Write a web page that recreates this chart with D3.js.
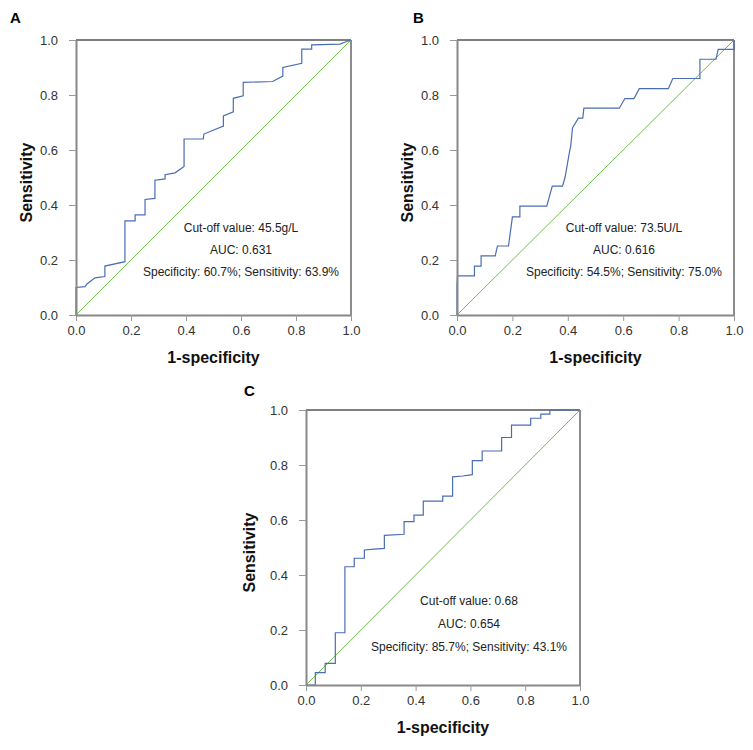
<!DOCTYPE html>
<html>
<head>
<meta charset="utf-8">
<script src="https://cdn.jsdelivr.net/npm/d3@7/dist/d3.min.js"></script>
<style>
  html, body { margin: 0; padding: 0; background: #fff; }
  svg { display: block; font-family: Arial, "Liberation Sans", sans-serif; }
</style>
</head>
<body>
<svg id="chart" width="753" height="750"></svg>
<script>
// ---------- data ----------
const tickValues = [0.0, 0.2, 0.4, 0.6, 0.8, 1.0];
const xTitle = "1-specificity";
const yTitle = "Sensitivity";
const panelLabels = ["A", "B", "C"];

// ROC curve points [1-specificity, sensitivity]
const rocA = [[0,0],[0,0.10],[0.033,0.103],[0.04,0.113],[0.069,0.135],[0.105,0.14],[0.105,0.178],[0.178,0.194],[0.178,0.342],[0.215,0.342],[0.215,0.364],[0.251,0.364],[0.251,0.42],[0.287,0.424],[0.287,0.49],[0.324,0.495],[0.324,0.51],[0.36,0.517],[0.393,0.54],[0.393,0.64],[0.463,0.64],[0.465,0.658],[0.536,0.687],[0.536,0.724],[0.572,0.739],[0.572,0.788],[0.608,0.797],[0.608,0.846],[0.715,0.849],[0.752,0.869],[0.752,0.9],[0.821,0.915],[0.821,0.967],[0.857,0.967],[0.857,0.982],[0.96,0.985],[0.972,0.99],[1,1]];
const rocB = [[0,0],[0,0.109],[0.002,0.142],[0.063,0.142],[0.063,0.178],[0.087,0.178],[0.087,0.215],[0.138,0.215],[0.146,0.251],[0.186,0.251],[0.2,0.357],[0.227,0.357],[0.227,0.396],[0.324,0.396],[0.344,0.469],[0.381,0.469],[0.39,0.5],[0.408,0.604],[0.41,0.61],[0.417,0.68],[0.438,0.716],[0.454,0.716],[0.458,0.752],[0.586,0.752],[0.606,0.787],[0.639,0.787],[0.658,0.823],[0.763,0.823],[0.779,0.86],[0.877,0.86],[0.877,0.93],[0.935,0.93],[0.943,0.966],[1,0.966],[1,1]];
const rocC = [[0,0],[0.034,0],[0.034,0.045],[0.07,0.045],[0.07,0.079],[0.107,0.079],[0.107,0.19],[0.142,0.19],[0.142,0.43],[0.176,0.43],[0.176,0.461],[0.213,0.461],[0.213,0.491],[0.249,0.494],[0.286,0.497],[0.286,0.544],[0.358,0.548],[0.358,0.594],[0.394,0.594],[0.394,0.618],[0.428,0.618],[0.428,0.669],[0.499,0.669],[0.499,0.687],[0.535,0.687],[0.535,0.757],[0.572,0.76],[0.607,0.765],[0.607,0.816],[0.643,0.816],[0.643,0.851],[0.714,0.851],[0.714,0.9],[0.75,0.9],[0.75,0.945],[0.82,0.945],[0.82,0.97],[0.857,0.97],[0.857,0.985],[0.89,0.985],[0.89,1],[1,1]];
const diagonal = [[0,0],[1,1]];

const notesA = ["Cut-off value: 45.5g/L", "AUC: 0.631", "Specificity: 60.7%; Sensitivity: 63.9%"];
const notesB = ["Cut-off value: 73.5U/L", "AUC: 0.616", "Specificity: 54.5%; Sensitivity: 75.0%"];
const notesC = ["Cut-off value: 0.68", "AUC: 0.654", "Specificity: 85.7%; Sensitivity: 43.1%"];

// ---------- layout ----------
const panels = [
  {label: panelLabels[0], data: rocA, notes: notesA, left: 76,  top: 40,  w: 275, h: 275, noteX: 241, noteY: [232, 254, 276], labX: 10,  labY: 23,  yTitleX: 32},
  {label: panelLabels[1], data: rocB, notes: notesB, left: 457, top: 40,  w: 277, h: 275, noteX: 624, noteY: [232, 254, 276], labX: 413, labY: 23,  yTitleX: 413},
  {label: panelLabels[2], data: rocC, notes: notesC, left: 306, top: 410, w: 274, h: 275, noteX: 469, noteY: [605, 628, 651], labX: 244, labY: 396, yTitleX: 255}
];

const svg = d3.select("#chart");
const fmt = d3.format(".1f");

panels.forEach(p => {
  const x = d3.scaleLinear().domain([0, 1]).range([p.left, p.left + p.w]);
  const y = d3.scaleLinear().domain([0, 1]).range([p.top + p.h, p.top]);
  const g = svg.append("g");

  // top and right frame
  g.append("line").attr("x1", x(0)).attr("x2", x(1)).attr("y1", y(1)).attr("y2", y(1))
    .attr("stroke", "#555").attr("stroke-width", 1.5);
  g.append("line").attr("x1", x(1)).attr("x2", x(1)).attr("y1", y(1)).attr("y2", y(0))
    .attr("stroke", "#666").attr("stroke-width", 1.5);

  // diagonal
  const line = d3.line().x(d => x(d[0])).y(d => y(d[1]));
  g.append("path").datum(diagonal).attr("d", line)
    .attr("fill", "none").attr("stroke", "#6cc04a").attr("stroke-width", 1);

  // ROC curve
  g.append("path").datum(p.data).attr("d", line)
    .attr("fill", "none").attr("stroke", "#4a6db3").attr("stroke-width", 1.2);

  // axes
  const xAxis = d3.axisBottom(x).tickValues(tickValues).tickFormat(fmt).tickSize(6).tickSizeOuter(0).tickPadding(5);
  const yAxis = d3.axisLeft(y).tickValues(tickValues).tickFormat(fmt).tickSize(7).tickSizeOuter(0).tickPadding(11);
  const gx = g.append("g").attr("transform", `translate(0,${y(0)})`).call(xAxis);
  const gy = g.append("g").attr("transform", `translate(${x(0)},0)`).call(yAxis);
  [gx, gy].forEach(a => {
    a.select(".domain").attr("stroke", "#888").attr("stroke-width", 2);
    a.selectAll(".tick line").attr("stroke", "#999").attr("stroke-width", 1);
    a.selectAll(".tick text").attr("fill", "#333").style("font-size", "13px")
      .style("font-family", "Arial, 'Liberation Sans', sans-serif");
  });

  // axis titles
  g.append("text").attr("x", (x(0) + x(1)) / 2).attr("y", y(0) + 48)
    .attr("text-anchor", "middle").style("font-size", "16px").style("font-weight", "bold")
    .attr("fill", "#111").text(xTitle);
  g.append("text")
    .attr("transform", `translate(${p.yTitleX},${(y(0) + y(1)) / 2 + 5}) rotate(-90)`)
    .attr("text-anchor", "middle").style("font-size", "16px").style("font-weight", "bold")
    .attr("fill", "#111").text(yTitle);

  // panel label
  g.append("text").attr("x", p.labX).attr("y", p.labY)
    .style("font-size", "15px").style("font-weight", "bold").attr("fill", "#000").text(p.label);

  // annotations
  p.notes.forEach((t, i) => {
    g.append("text").attr("x", p.noteX).attr("y", p.noteY[i]).attr("text-anchor", "middle")
      .style("font-size", "12px").attr("fill", "#222").text(t);
  });
});
</script>
</body>
</html>
